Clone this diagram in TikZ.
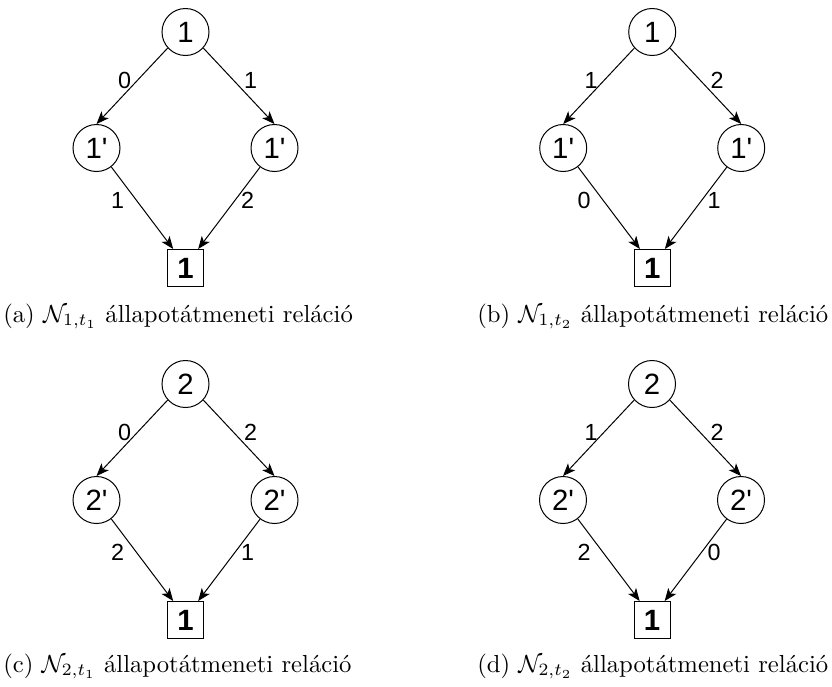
\documentclass[tikz,border=0pt]{standalone}
\usepackage{graphicx}
\usepackage{fontspec}
\newfontfamily\dsans{Liberation Sans}
\usetikzlibrary{arrows.meta}
\newcommand\statediag[8]{%
\begin{scope}[shift={(#2,#3)}]
\node[st] (#1t) at (0,0) {#4};
\node[st] (#1l) at (-89,116) {#4\textquotesingle};
\node[st] (#1r) at (89,116) {#4\textquotesingle};
\node[fin] (#1b) at (0,236) {1};
\draw[arr] (#1t.222) -- (#1l.north);
\draw[arr] (#1t.318) -- (#1r.north);
\draw[arr] (#1l.308) -- ([xshift=-9.25pt]#1b.north);
\draw[arr] (#1r.233) -- ([xshift=9.5pt]#1b.north);
\node[lbl] (#1ltl) at (-61,48) {#5};
\node[lbl] (#1ltr) at (65,48) {#6};
\node[lbl] (#1lbl) at (-68,168.5) {#7};
\node[lbl] (#1lbr) at (62,168.5) {#8};
\end{scope}}
\begin{document}
\begin{tikzpicture}[x=0.75pt,y=-0.75pt,
  st/.style={circle,draw,line width=0.75pt,minimum size=35.25pt,inner sep=0pt,font=\dsans\fontsize{22}{24}\selectfont},
  fin/.style={rectangle,draw,line width=0.75pt,minimum width=27pt,minimum height=27.75pt,inner sep=0pt,font=\dsans\bfseries\fontsize{22}{24}\selectfont},
  lbl/.style={inner sep=0pt,font=\dsans\fontsize{17.5}{19}\selectfont},
  arr/.style={line width=0.75pt,-{Stealth[length=9.5pt,width=7.5pt,inset=2.5pt]}},
  captext/.style={anchor=base west,inner sep=0pt}]
\useasboundingbox (0,0) rectangle (832,686);
\statediag{a}{185.5}{32}{1}{0}{1}{1}{2}
\statediag{b}{652.2}{32}{1}{1}{2}{0}{1}
\statediag{c}{185.5}{384}{2}{0}{2}{2}{1}
\statediag{d}{652}{384}{2}{1}{2}{2}{0}
\node[captext] (capa) at (3,322) {\scalebox{1.85}{(a) $\mathcal{N}_{1,t_1}$ állapotátmeneti reláció}};
\node[captext] (capb) at (477,322) {\scalebox{1.85}{(b) $\mathcal{N}_{1,t_2}$ állapotátmeneti reláció}};
\node[captext] (capc) at (3,672) {\scalebox{1.85}{(c) $\mathcal{N}_{2,t_1}$ állapotátmeneti reláció}};
\node[captext] (capd) at (477,672) {\scalebox{1.85}{(d) $\mathcal{N}_{2,t_2}$ állapotátmeneti reláció}};
\end{tikzpicture}
\end{document}
